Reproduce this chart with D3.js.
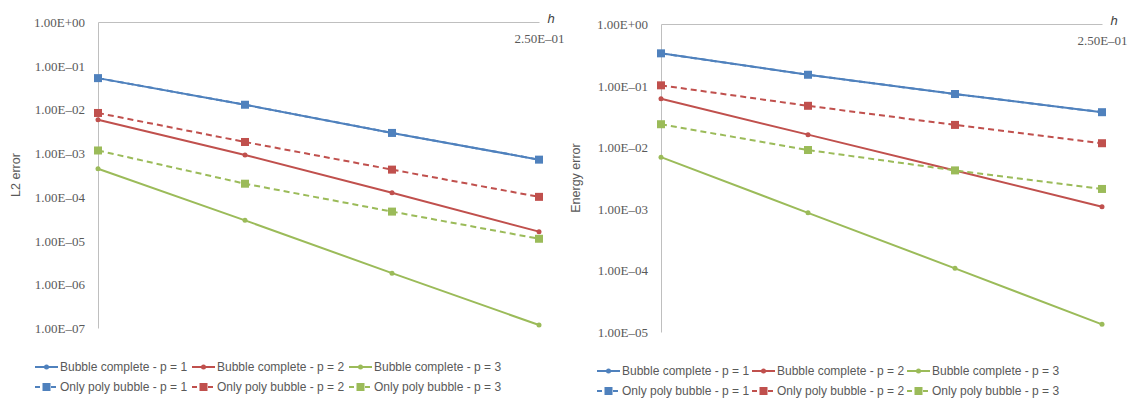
<!DOCTYPE html>
<head>
  <meta charset="UTF-8">
  <title>convergence</title>
  <style>
  body, html, div, svg{
    padding: 0;
    margin: 0;
  }
  body{
    background: #fff;
  }
  .legend text, .ylabel{
    font-family: "Liberation Sans", Arial, sans-serif;
    fill: #595959;
  }
  .legend text{
    font-size: 12px;
  }
  .ylabel{
    font-size: 12.5px;
  }
  </style>
</head>
<body>
  <script src="https://cdn.jsdelivr.net/npm/d3@7"></script>
  <script type="text/javascript">
  // h values (left to right) and the only labelled h tick
  var hValues = [2, 1, 0.5, 0.25];
  var hTicks = [0.25];

  var seriesNames = [
    'Bubble complete - p = 1', 'Bubble complete - p = 2', 'Bubble complete - p = 3',
    'Only poly bubble - p = 1', 'Only poly bubble - p = 2', 'Only poly bubble - p = 3'
  ];

  // L2 error
  var l2Complete1 = [0.052, 0.0128, 0.0029, 7.1e-4];
  var l2Complete2 = [5.8e-3, 9.1e-4, 1.24e-4, 1.6e-5];
  var l2Complete3 = [4.4e-4, 2.9e-5, 1.8e-6, 1.17e-7];
  var l2Poly1 = [0.052, 0.0128, 0.0029, 7.1e-4];
  var l2Poly2 = [8.3e-3, 1.8e-3, 4.2e-4, 1.0e-4];
  var l2Poly3 = [1.15e-3, 2.0e-4, 4.6e-5, 1.1e-5];
  var l2Ticks = [1, 1e-1, 1e-2, 1e-3, 1e-4, 1e-5, 1e-6, 1e-7];

  // Energy error
  var enComplete1 = [0.334, 0.150, 0.073, 0.037];
  var enComplete2 = [0.061, 0.016, 4.2e-3, 1.08e-3];
  var enComplete3 = [6.9e-3, 8.6e-4, 1.08e-4, 1.33e-5];
  var enPoly1 = [0.334, 0.150, 0.073, 0.037];
  var enPoly2 = [0.101, 0.047, 0.023, 0.0116];
  var enPoly3 = [0.0236, 9.0e-3, 4.2e-3, 2.1e-3];
  var enTicks = [1, 1e-1, 1e-2, 1e-3, 1e-4, 1e-5];

  var colors = ['#4F81BD', '#C0504D', '#9BBB59'];
  var serif = '"Liberation Serif", "Times New Roman", serif';

  var svg = d3.select('body').append('svg')
    .attr('width', 1131)
    .attr('height', 398);

  function fmt(d) {
    var e = Math.round(Math.log10(d));
    return '1.00E' + (e < 0 ? '\u2013' : '+') + String(Math.abs(e)).padStart(2, '0');
  }
  function fmtH(d) {
    var e = Math.floor(Math.log10(d));
    var m = d / Math.pow(10, e);
    return m.toFixed(2) + 'E' + (e < 0 ? '\u2013' : '+') + String(Math.abs(e)).padStart(2, '0');
  }

  function drawChart(o) {
    var g = svg.append('g');
    var x = d3.scaleLog().domain([hValues[0], hValues[hValues.length - 1]]).range([o.x0, o.x1]);
    var y = d3.scaleLog().domain([o.ticks[0], o.ticks[o.ticks.length - 1]]).range([o.y0, o.y1]);

    // y axis
    var ya = g.append('g').attr('transform', 'translate(' + o.x0 + ',0)')
      .call(d3.axisLeft(y).tickValues(o.ticks).tickFormat(fmt).tickSize(0).tickPadding(13));
    ya.select('.domain').attr('stroke', '#BFBFBF');
    ya.selectAll('.tick text').attr('dy', '0.35em')
      .style('font-family', serif).style('font-size', '13px').attr('fill', '#595959');

    // x axis on top
    var xa = g.append('g').attr('transform', 'translate(0,' + o.y0 + ')')
      .call(d3.axisBottom(x).tickValues(hTicks).tickFormat(fmtH).tickSize(0).tickPadding(12));
    xa.select('.domain').attr('stroke', '#BFBFBF');
    xa.selectAll('.tick text').attr('dy', '0.71em')
      .style('font-family', serif).style('font-size', '13px').attr('fill', '#595959');

    g.append('text').attr('x', o.x1 + 12).attr('y', o.y0 + 1)
      .attr('text-anchor', 'middle')
      .style('font-family', '"Liberation Sans", Arial, sans-serif')
      .style('font-style', 'italic').style('font-size', '13px')
      .attr('fill', '#404040').text('h');

    g.append('text').attr('class', 'ylabel')
      .attr('transform', 'translate(' + o.labelX + ',' + o.labelY + ') rotate(-90)')
      .attr('text-anchor', 'middle').text(o.label);

    var line = d3.line().x(function(d, i) { return x(hValues[i]); }).y(function(d) { return y(d); });

    o.series.forEach(function(s, k) {
      var c = colors[k % 3];
      var poly = k >= 3;
      g.append('path').datum(s)
        .attr('d', line)
        .attr('fill', 'none')
        .attr('stroke', c)
        .attr('stroke-width', 2)
        .attr('stroke-dasharray', poly ? '6,4' : null);
      if (poly) {
        g.selectAll(null).data(s).enter().append('rect')
          .attr('x', function(d, i) { return x(hValues[i]) - 4; })
          .attr('y', function(d) { return y(d) - 4; })
          .attr('width', 8).attr('height', 8)
          .attr('fill', c);
      } else {
        g.selectAll(null).data(s).enter().append('circle')
          .attr('cx', function(d, i) { return x(hValues[i]); })
          .attr('cy', function(d) { return y(d); })
          .attr('r', 2.5)
          .attr('fill', c);
      }
    });

    // legend
    var lg = g.append('g').attr('class', 'legend');
    seriesNames.forEach(function(name, k) {
      var col = k % 3, row = Math.floor(k / 3);
      var lx = o.legX + col * o.legStep;
      var ly = o.legY + row * o.legRow;
      var c = colors[col];
      if (row === 0) {
        lg.append('line').attr('x1', lx).attr('x2', lx + 23).attr('y1', ly).attr('y2', ly)
          .attr('stroke', c).attr('stroke-width', 2);
        lg.append('circle').attr('cx', lx + 11.5).attr('cy', ly).attr('r', 2.5).attr('fill', c);
      } else {
        lg.append('line').attr('x1', lx).attr('x2', lx + 23).attr('y1', ly).attr('y2', ly)
          .attr('stroke', c).attr('stroke-width', 2).attr('stroke-dasharray', '5,3');
        lg.append('rect').attr('x', lx + 7.5).attr('y', ly - 4).attr('width', 8).attr('height', 8).attr('fill', c);
      }
      lg.append('text').attr('x', lx + 25).attr('y', ly).attr('dy', '0.35em').text(name);
    });
  }

  drawChart({
    x0: 98, x1: 539, y0: 22, y1: 328,
    ticks: l2Ticks, label: 'L2 error', labelX: 20, labelY: 175,
    series: [l2Complete1, l2Complete2, l2Complete3, l2Poly1, l2Poly2, l2Poly3],
    legX: 35, legY: 367, legStep: 157, legRow: 20
  });

  drawChart({
    x0: 661, x1: 1102, y0: 24, y1: 332,
    ticks: enTicks, label: 'Energy error', labelX: 580, labelY: 178,
    series: [enComplete1, enComplete2, enComplete3, enPoly1, enPoly2, enPoly3],
    legX: 597, legY: 371, legStep: 155, legRow: 20
  });
  </script>
</body>
</html>
